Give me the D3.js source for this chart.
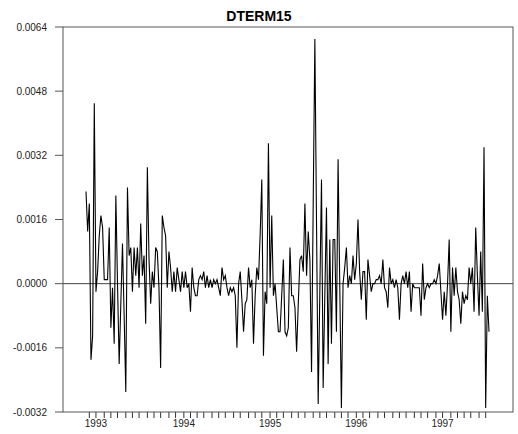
<!DOCTYPE html>
<html>
<head>
<meta charset="utf-8">
<script src="https://cdn.jsdelivr.net/npm/d3@7"></script>
<style>
body { margin: 0; background: #fff; }
text { font-family: "Liberation Sans", Arial, sans-serif; }
</style>
</head>
<body>
<div id="chart"></div>
<script>
var title = 'DTERM15';
var firstWeek = '1992-11-20';

// weekly values
var dterm15 = [
    0.0023, 0.0013, 0.0020, -0.0019, -0.0013, 0.0045, -0.0002, 0.0003, 0.0012, 0.0017,
    0.0014, 0.0001, 0.0001, 0.0001, 0.0014, -0.0011, -0.0001, -0.0015, 0.0022, 0.0000,
    -0.0020, -0.0005, 0.0010, -0.0008, -0.0027, 0.0024, 0.0007, 0.0009, -0.0002, 0.0009,
    0.0002, 0.0009, -0.0001, 0.0015, 0.0002, 0.0007, -0.0010, 0.0029, 0.0006, -0.0005,
    0.0003, -0.0001, 0.0009, 0.0008, -0.0001, -0.0021, 0.0017, 0.0014, 0.0012, -0.0001,
    0.0008, 0.0004, -0.0002, 0.0003, -0.0002, 0.0004, 0.0001, -0.0002, 0.0003, -0.0001,
    0.0003, -0.0001, 0.0000, -0.0007, 0.0004, -0.0001, -0.0003, -0.0003, 0.0001, 0.0002,
    0.0001, 0.0003, -0.0001, 0.0002, -0.0001, 0.0001, -0.0001, 0.0001, 0.0000, 0.0001,
    -0.0001, -0.0003, 0.0004, 0.0001, 0.0002, -0.0001, -0.0003, -0.0001, -0.0002, -0.0001,
    -0.0003, -0.0016, 0.0000, 0.0003, -0.0004, -0.0012, -0.0005, -0.0004, 0.0004, -0.0001,
    0.0001, -0.0015, -0.0003, 0.0004, 0.0001, 0.0012, 0.0026, -0.0018, -0.0002, -0.0005,
    0.0035, -0.0001, 0.0017, -0.0003, 0.0000, -0.0006, -0.0012, -0.0012, -0.0003, 0.0006,
    -0.0012, -0.0013, -0.0011, 0.0009, -0.0003, -0.0003, -0.0006, -0.0017, -0.0005, 0.0006,
    0.0007, 0.0003, 0.0020, 0.0002, 0.0013, 0.0006, -0.0022, 0.0020, 0.0061, 0.0015,
    -0.0030, -0.0002, 0.0026, -0.0026, -0.0003, 0.0019, -0.0020, 0.0011, -0.0015, 0.0011,
    0.0011, -0.0012, 0.0031, 0.0000, -0.0031, 0.0000, 0.0004, 0.0009, -0.0001, 0.0002,
    0.0000, 0.0007, 0.0001, 0.0005, 0.0016, 0.0003, -0.0004, 0.0003, 0.0003, -0.0009,
    0.0006, 0.0002, -0.0002, 0.0000, 0.0000, 0.0001, 0.0001, 0.0002, 0.0000, 0.0006,
    -0.0001, -0.0002, -0.0006, 0.0004, 0.0000, 0.0001, -0.0001, 0.0001, -0.0001, -0.0009,
    0.0000, 0.0002, 0.0000, 0.0003, -0.0001, 0.0003, -0.0007, 0.0000, -0.0001, -0.0001,
    -0.0001, -0.0001, -0.0008, 0.0005, -0.0004, -0.0001, 0.0000, -0.0001, 0.0000, 0.0000,
    0.0001, 0.0000, 0.0002, 0.0005, -0.0002, -0.0009, -0.0002, -0.0008, 0.0000, 0.0011,
    -0.0012, 0.0004, -0.0003, 0.0004, -0.0002, -0.0004, -0.0010, -0.0002, -0.0005, -0.0003,
    -0.0004, 0.0004, 0.0000, 0.0004, -0.0007, 0.0014, 0.0002, -0.0008, 0.0008, -0.0007,
    0.0034, -0.0031, -0.0003, -0.0012
];

var yTicks = [-0.0032, -0.0016, 0, 0.0016, 0.0032, 0.0048, 0.0064];
var yTickLabels = ['-0.0032', '-0.0016', '0.0000', '0.0016', '0.0032', '0.0048', '0.0064'];
var yearLabels = ['1993', '1994', '1995', '1996', '1997'];

var dim = {
    'width': 518,
    'height': 434,
    'left': 63,
    'right': 513,
    'top': 27,
    'bottom': 412
}

var svg = d3.select('#chart').append('svg')
    .attr('width', dim.width)
    .attr('height', dim.height);

var parse = d3.timeParse('%Y-%m-%d');
var start = parse(firstWeek);
var data = dterm15.map(function (v, i) {
    return { date: d3.timeDay.offset(start, 7 * i), value: v };
});

var x = d3.scaleTime()
    .domain(d3.extent(data, d => d.date))
    .range([dim.left + 23, dim.right - 24]);

var y = d3.scaleLinear()
    .domain([-0.0032, 0.0064])
    .range([dim.bottom, dim.top]);

// first observation of each month gets a tick
var monthStarts = data.filter(function (d, i) {
    return i > 0 && d.date.getMonth() !== data[i - 1].date.getMonth();
});

svg.append('text')
    .attr('x', dim.width / 2)
    .attr('y', 21)
    .attr('text-anchor', 'middle')
    .attr('font-size', '14px')
    .attr('font-weight', 'bold')
    .text(title);

// y ticks + labels
svg.selectAll('.ytick')
    .data(yTicks).enter()
    .append('line')
    .attr('class', 'ytick')
    .attr('x1', dim.left - 8)
    .attr('x2', dim.left)
    .attr('y1', d => y(d))
    .attr('y2', d => y(d))
    .attr('stroke', '#555');

svg.selectAll('.ylabel')
    .data(yTicks).enter()
    .append('text')
    .attr('class', 'ylabel')
    .attr('x', dim.left - 16)
    .attr('y', d => y(d))
    .attr('dy', '0.35em')
    .attr('text-anchor', 'end')
    .attr('font-size', '10px')
    .attr('fill', '#222')
    .text((d, i) => yTickLabels[i]);

// x ticks
svg.selectAll('.xtick')
    .data(monthStarts).enter()
    .append('line')
    .attr('class', 'xtick')
    .attr('x1', d => x(d.date))
    .attr('x2', d => x(d.date))
    .attr('y1', dim.bottom)
    .attr('y2', dim.bottom + 6)
    .attr('stroke', '#333');

svg.selectAll('.xlabel')
    .data(yearLabels).enter()
    .append('text')
    .attr('class', 'xlabel')
    .attr('x', function (yr) {
        var first = monthStarts.find(d => d.date.getFullYear() === +yr && d.date.getMonth() === 0);
        return x(first.date);
    })
    .attr('y', dim.bottom + 15)
    .attr('text-anchor', 'middle')
    .attr('font-size', '10px')
    .attr('fill', '#222')
    .text(d => d);

// zero line
svg.append('line')
    .attr('x1', dim.left)
    .attr('x2', dim.right)
    .attr('y1', y(0))
    .attr('y2', y(0))
    .attr('stroke', '#444');

var line = d3.line()
    .x(d => x(d.date))
    .y(d => y(d.value));

svg.append('path')
    .datum(data)
    .attr('d', line)
    .attr('fill', 'none')
    .attr('stroke', '#000')
    .attr('stroke-width', 1.1);

// frame
svg.append('rect')
    .attr('x', dim.left)
    .attr('y', dim.top)
    .attr('width', dim.right - dim.left)
    .attr('height', dim.bottom - dim.top)
    .attr('fill', 'none')
    .attr('stroke', '#555');
</script>
</body>
</html>
